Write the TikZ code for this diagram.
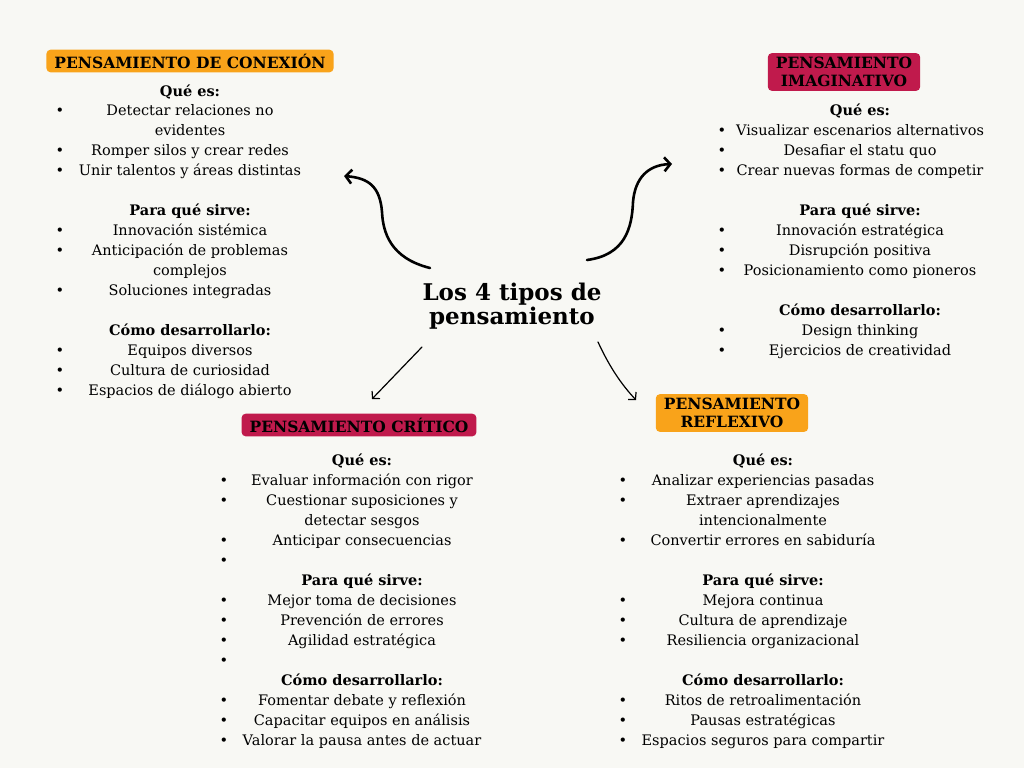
\documentclass[tikz,border=0pt]{standalone}
\usepackage{fontspec}
\setmainfont{DejaVu Serif}
\usetikzlibrary{arrows.meta}
\definecolor{bg}{HTML}{F8F8F4}
\definecolor{orng}{HTML}{F9A31A}
\definecolor{crim}{HTML}{C01A4C}
\begin{document}
\begin{tikzpicture}[x=1pt,y=-1pt,
  txt/.style={font=\fontsize{14.5}{18}\selectfont,inner sep=0pt,anchor=center,text height=10.5pt,text depth=3pt,yshift=-2pt},
  bul/.style={txt},
  tag/.style={rounded corners=4pt,font=\fontsize{15.5}{18}\selectfont\bfseries,align=center,inner xsep=8pt,inner ysep=4pt},
  bigarr/.style={line width=2.6pt,-{Straight Barb[length=6pt,width=14pt]},line cap=round},
  thinarr/.style={line width=1.2pt,-{Straight Barb[length=5pt,width=11pt]},line cap=round}]
\fill[bg] (0,0) rectangle (1024,768);
\useasboundingbox (0,0) rectangle (1024,768);
\node[tag,fill=orng] (tA) at (190,61) {PENSAMIENTO DE CONEXIÓN};
\node[tag,fill=crim] (tB) at (844,72) {PENSAMIENTO\\IMAGINATIVO};
\node[tag,fill=crim] (tC) at (359,425) {PENSAMIENTO CRÍTICO};
\node[tag,fill=orng] (tD) at (732,413) {PENSAMIENTO\\REFLEXIVO};
\node[font=\fontsize{23}{24}\selectfont\bfseries,align=center] (c) at (512,306) {Los 4 tipos de\\pensamiento};
% block A
\foreach \y/\t/\b [count=\i] in {91/{\bfseries Qué es:}/0,110/Detectar relaciones no/1,130/evidentes/0,150/Romper silos y crear redes/1,170/Unir talentos y áreas distintas/1,210/{\bfseries Para qué sirve:}/0,230/Innovación sistémica/1,250/Anticipación de problemas/1,270/complejos/0,290/Soluciones integradas/1,330/{\bfseries Cómo desarrollarlo:}/0,350/Equipos diversos/1,370/Cultura de curiosidad/1,390/Espacios de diálogo abierto/1}{
  \node[txt] (a\i) at (190,\y) {\t};
  \ifnum\b=1 \node[bul] (ab\i) at (60,\y) {•};\fi}
% block B
\foreach \y/\t/\b [count=\i] in {110/{\bfseries Qué es:}/0,130/Visualizar escenarios alternativos/1,150/Desafiar el statu quo/1,170/Crear nuevas formas de competir/1,210/{\bfseries Para qué sirve:}/0,230/Innovación estratégica/1,250/Disrupción positiva/1,270/Posicionamiento como pioneros/1,310/{\bfseries Cómo desarrollarlo:}/0,330/Design thinking/1,350/Ejercicios de creatividad/1}{
  \node[txt] (b\i) at (860,\y) {\t};
  \ifnum\b=1 \node[bul] (bb\i) at (722,\y) {•};\fi}
% block C
\foreach \y/\t/\b [count=\i] in {460/{\bfseries Qué es:}/0,480/Evaluar información con rigor/1,500/Cuestionar suposiciones y/1,520/detectar sesgos/0,540/Anticipar consecuencias/1,560/{}/1,580/{\bfseries Para qué sirve:}/0,600/Mejor toma de decisiones/1,620/Prevención de errores/1,640/Agilidad estratégica/1,660/{}/1,680/{\bfseries Cómo desarrollarlo:}/0,700/Fomentar debate y reflexión/1,720/Capacitar equipos en análisis/1,740/Valorar la pausa antes de actuar/1}{
  \node[txt] (c\i) at (362,\y) {\t};
  \ifnum\b=1 \node[bul] (cb\i) at (224,\y) {•};\fi}
% block D
\foreach \y/\t/\b [count=\i] in {460/{\bfseries Qué es:}/0,480/Analizar experiencias pasadas/1,500/Extraer aprendizajes/1,520/intencionalmente/0,540/Convertir errores en sabiduría/1,580/{\bfseries Para qué sirve:}/0,600/Mejora continua/1,620/Cultura de aprendizaje/1,640/Resiliencia organizacional/1,680/{\bfseries Cómo desarrollarlo:}/0,700/Ritos de retroalimentación/1,720/Pausas estratégicas/1,740/Espacios seguros para compartir/1}{
  \node[txt] (d\i) at (763,\y) {\t};
  \ifnum\b=1 \node[bul] (db\i) at (623,\y) {•};\fi}
% arrows
\coordinate (sA) at (430,268);
\coordinate (sB) at (587,260);
\coordinate (sC) at (422,347);
\coordinate (sD) at (598,342);
\coordinate (eA) at (344,176);
\coordinate (eB) at (672,164);
\coordinate (eC) at (372,399);
\coordinate (eD) at (636,400);
\draw[bigarr] (sA) .. controls (390,258) and (383,232) .. (382,212) .. controls (380,186) and (368,178) .. (eA);
\draw[bigarr] (sB) .. controls (625,255) and (632,228) .. (633,202) .. controls (635,178) and (648,165) .. (eB);
\draw[thinarr] (sC) -- (eC);
\draw[thinarr] (sD) .. controls (610,368) and (622,385) .. (eD);
\end{tikzpicture}
\end{document}
